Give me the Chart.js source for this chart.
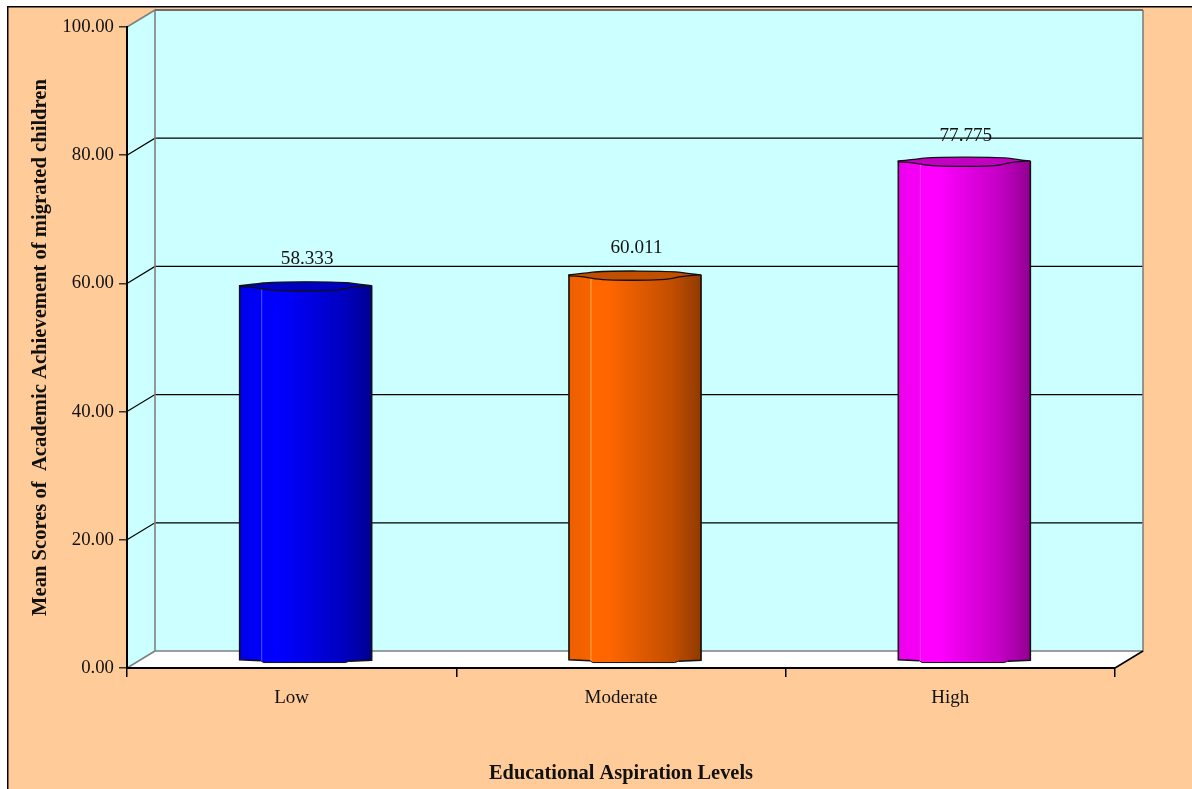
<!DOCTYPE html>
<html lang="en">
<head>
<meta charset="UTF-8">
<title>Mean Scores of Academic Achievement</title>
<script src="https://cdn.jsdelivr.net/npm/chart.js"></script>
<style>
    html, body { margin: 0; padding: 0; background: #fff; overflow: hidden; }
    canvas { display: block; }
</style>
</head>
<body>
<canvas id="chart" width="1192" height="789"></canvas>
<script>
const categories = ['Low', 'Moderate', 'High'];
const meanScores = [58.333, 60.011, 77.775];
const yTicks = [0, 20, 40, 60, 80, 100];
const barColors = [[0, 0, 255], [255, 102, 0], [255, 0, 255]];

const SERIF = '"Liberation Serif", "Times New Roman", serif';
const DEPTH_X = 28, DEPTH_Y = 17;   // depth of the fake 3D box
const BAR_W = 132;

function shade(rgb, k) {
    return 'rgb(' + rgb.map(c => Math.round(c * k)).join(',') + ')';
}

function barGradient(ctx, cx, rgb) {
    const L = cx - BAR_W / 2;
    const g = ctx.createLinearGradient(L, 0, L + BAR_W, 0);
    g.addColorStop(0, shade(rgb, 0.93));
    g.addColorStop(0.16, shade(rgb, 0.97));
    g.addColorStop(0.165, 'rgb(' + rgb.map(c => Math.min(255, c + 70)).join(',') + ')');
    g.addColorStop(0.175, shade(rgb, 1));
    g.addColorStop(0.3, shade(rgb, 1));
    g.addColorStop(0.6, shade(rgb, 0.85));
    g.addColorStop(0.78, shade(rgb, 0.76));
    g.addColorStop(1, shade(rgb, 0.57));
    return g;
}

// rounded run through a list of [x, y], used for the wavy cap edges
function curveThrough(c, pts) {
    for (let i = 1; i < pts.length - 1; i++) {
        const mx = (pts[i][0] + pts[i + 1][0]) / 2, my = (pts[i][1] + pts[i + 1][1]) / 2;
        c.quadraticCurveTo(pts[i][0], pts[i][1], mx, my);
    }
    const last = pts[pts.length - 1];
    c.lineTo(last[0], last[1]);
}

// page background, walls, floor and the back grid lines
const boxPlugin = {
    id: 'box',
    beforeDraw(chart) {
        const c = chart.ctx, a = chart.chartArea, y = chart.scales.y;
        c.save();
        c.fillStyle = '#ffcc99';
        c.fillRect(8, 7, 1184, 782);
        c.fillStyle = '#000';
        c.fillRect(7, 6, 1185, 1.5);
        c.fillRect(7, 6, 1.5, 783);

        c.fillStyle = '#ccffff';
        c.fillRect(a.left + DEPTH_X, a.top - DEPTH_Y, a.right - a.left, a.bottom - a.top);
        c.beginPath();
        c.moveTo(a.left, a.top);
        c.lineTo(a.left + DEPTH_X, a.top - DEPTH_Y);
        c.lineTo(a.left + DEPTH_X, a.bottom - DEPTH_Y);
        c.lineTo(a.left, a.bottom);
        c.closePath();
        c.fill();

        c.fillStyle = '#fff';
        c.beginPath();
        c.moveTo(a.left, a.bottom);
        c.lineTo(a.left + DEPTH_X, a.bottom - DEPTH_Y);
        c.lineTo(a.right + DEPTH_X, a.bottom - DEPTH_Y);
        c.lineTo(a.right, a.bottom);
        c.closePath();
        c.fill();

        // grid lines run along the side wall then the back wall
        c.strokeStyle = '#000';
        c.lineWidth = 1.2;
        yTicks.slice(1, -1).forEach(v => {
            const py = y.getPixelForValue(v);
            c.beginPath();
            c.moveTo(a.left, py);
            c.lineTo(a.left + DEPTH_X, py - DEPTH_Y);
            c.lineTo(a.right + DEPTH_X, py - DEPTH_Y);
            c.stroke();
        });

        c.strokeStyle = '#808080';
        c.lineWidth = 1.6;
        c.beginPath();
        c.moveTo(a.left, a.top);
        c.lineTo(a.left + DEPTH_X, a.top - DEPTH_Y);
        c.lineTo(a.left + DEPTH_X, a.bottom - DEPTH_Y);
        c.lineTo(a.left, a.bottom);
        c.moveTo(a.left + DEPTH_X, a.bottom - DEPTH_Y);
        c.lineTo(a.right + DEPTH_X, a.bottom - DEPTH_Y);
        c.lineTo(a.right + DEPTH_X, a.top - DEPTH_Y);
        c.stroke();
        c.strokeStyle = '#6e6e6e';
        c.lineWidth = 2;
        c.beginPath();
        c.moveTo(a.left + DEPTH_X, a.top - DEPTH_Y);
        c.lineTo(a.right + DEPTH_X, a.top - DEPTH_Y);
        c.stroke();

        c.strokeStyle = '#000';
        c.lineWidth = 1.5;
        c.beginPath();
        c.moveTo(a.right, a.bottom);
        c.lineTo(a.right + DEPTH_X, a.bottom - DEPTH_Y);
        c.stroke();
        c.restore();
    },
    // bars sit half way into the box
    beforeDatasetDraw(chart) {
        chart.ctx.save();
        chart.ctx.translate(DEPTH_X / 2, -DEPTH_Y / 2);
    },
    afterDatasetDraw(chart) {
        const c = chart.ctx, meta = chart.getDatasetMeta(0);
        meta.data.forEach((bar, i) => {
            const L = bar.x - BAR_W / 2, R = bar.x + BAR_W / 2;
            const t = bar.y, b = bar.base;

            // wavy bottom edge
            c.fillStyle = barGradient(c, bar.x, barColors[i]);
            c.beginPath();
            c.moveTo(L, b - 1);
            c.lineTo(L, b + 1);
            c.lineTo(L + 0.16 * BAR_W, b + 2);
            c.lineTo(L + 0.18 * BAR_W, b + 3.8);
            c.lineTo(L + 0.8 * BAR_W, b + 3.8);
            c.lineTo(L + 0.83 * BAR_W, b + 2.5);
            c.lineTo(R, b + 1.5);
            c.lineTo(R, b - 1);
            c.closePath();
            c.fill();

            // cap
            c.fillStyle = shade(barColors[i], 0.76);
            c.beginPath();
            c.moveTo(L, t);
            curveThrough(c, [[L, t], [L + 0.106 * BAR_W, t - 1.3], [L + 0.25 * BAR_W, t - 3.9],
                [L + 0.79 * BAR_W, t - 3.7], [L + 0.9 * BAR_W, t - 1.3], [R, t]]);
            curveThrough(c, [[R, t], [L + 0.86 * BAR_W, t + 0.8], [L + 0.74 * BAR_W, t + 5.4],
                [L + 0.25 * BAR_W, t + 5.4], [L + 0.106 * BAR_W, t + 1.5], [L, t + 1]]);
            c.closePath();
            c.fill();
            c.strokeStyle = '#111';
            c.lineWidth = 1.3;
            c.stroke();

            // outline of the sides and bottom
            c.lineWidth = 1.6;
            c.beginPath();
            c.moveTo(L, t);
            c.lineTo(L, b + 1);
            c.lineTo(L + 0.16 * BAR_W, b + 2);
            c.moveTo(L + 0.83 * BAR_W, b + 2.5);
            c.lineTo(R, b + 1.5);
            c.lineTo(R, t);
            c.stroke();
            c.lineWidth = 1;
            c.beginPath();
            c.moveTo(L + 0.16 * BAR_W, b + 2);
            c.lineTo(L + 0.18 * BAR_W, b + 3.8);
            c.lineTo(L + 0.8 * BAR_W, b + 3.8);
            c.lineTo(L + 0.83 * BAR_W, b + 2.5);
            c.stroke();
        });
        c.restore();

        // value labels
        c.save();
        c.font = '19.2px ' + SERIF;
        c.fillStyle = '#111';
        c.textAlign = 'center';
        c.textBaseline = 'middle';
        meta.data.forEach((bar, i) => {
            const lift = i === 2 ? 25 : 27;
            c.fillText(meanScores[i].toFixed(3), bar.x + DEPTH_X / 2 + 1.5, bar.y - DEPTH_Y / 2 - lift);
        });
        c.restore();
    }
};

new Chart(document.getElementById('chart'), {
    type: 'bar',
    data: {
        labels: categories,
        datasets: [{
            data: meanScores,
            barThickness: BAR_W,
            borderWidth: 0,
            clip: false,
            backgroundColor: ctx => {
                if (ctx.dataIndex === undefined) return '#888';
                const cx = ctx.chart.scales.x.getPixelForValue(ctx.dataIndex);
                if (!isFinite(cx)) return shade(barColors[ctx.dataIndex], 1);
                return barGradient(ctx.chart.ctx, cx, barColors[ctx.dataIndex]);
            }
        }]
    },
    options: {
        responsive: false,
        animation: false,
        devicePixelRatio: 1,
        layout: { padding: { top: 27, right: 77, left: 0, bottom: 0 } },
        plugins: { legend: { display: false }, tooltip: { enabled: false } },
        scales: {
            x: {
                afterFit: s => { s.height = 121; },
                grid: { drawOnChartArea: false, color: '#000', lineWidth: 1.5, tickLength: 9, tickColor: '#000' },
                border: { display: true, color: '#000', width: 2 },
                ticks: { color: '#111', padding: 10, font: { family: SERIF, size: 19 } },
                title: {
                    display: true,
                    text: 'Educational Aspiration Levels',
                    color: '#111',
                    font: { family: SERIF, size: 20.4, weight: 'bold' },
                    padding: { top: 0, bottom: 3 }
                }
            },
            y: {
                min: 0,
                max: 100,
                afterFit: s => { s.width = 127; },
                afterBuildTicks: s => { s.ticks = yTicks.map(v => ({ value: v })); },
                grid: { drawOnChartArea: false, color: '#333', lineWidth: 1.5, tickLength: 8, tickColor: '#333' },
                border: { display: true, color: '#000', width: 2 },
                ticks: {
                    color: '#111',
                    padding: 5,
                    font: { family: SERIF, size: 18.8 },
                    callback: v => Number(v).toFixed(2)
                },
                title: {
                    display: true,
                    text: 'Mean Scores of  Academic Achievement of migrated children',
                    color: '#111',
                    font: { family: SERIF, size: 20.6, weight: 'bold' },
                    padding: { top: 28, bottom: 0 }
                }
            }
        }
    },
    plugins: [boxPlugin]
});
</script>
</body>
</html>
